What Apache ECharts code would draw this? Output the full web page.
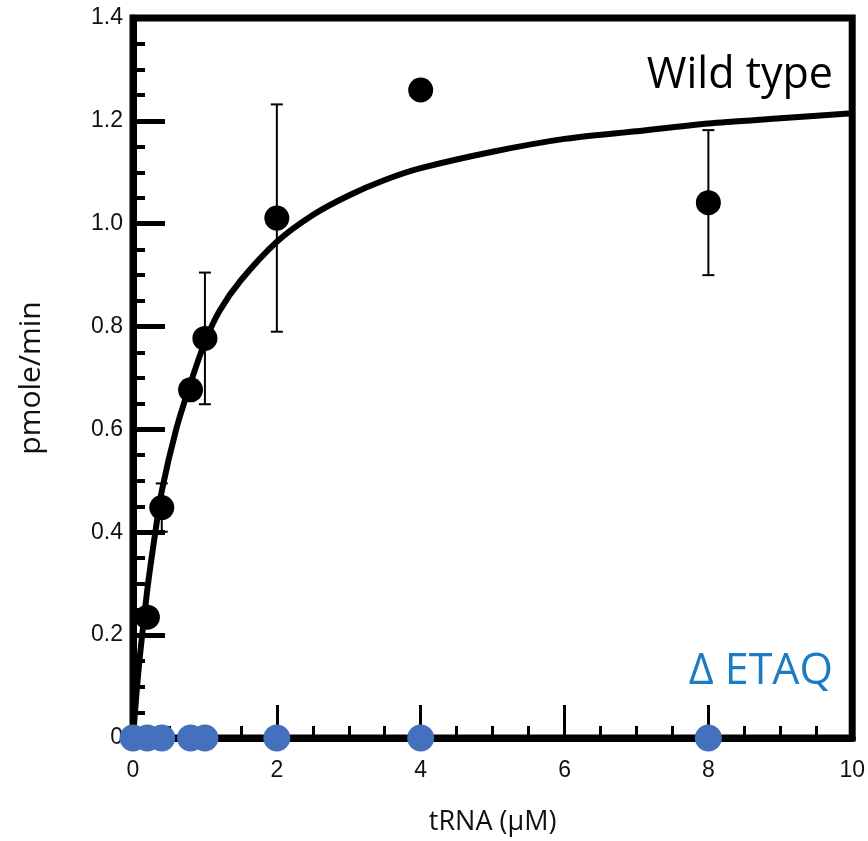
<!DOCTYPE html>
<html>
<head>
<meta charset="utf-8">
<script src="https://cdn.jsdelivr.net/npm/echarts@6/dist/echarts.min.js"></script>
<style>
  html, body { margin: 0; padding: 0; background: #fff; }
  #chart { width: 868px; height: 841px; }
</style>
</head>
<body>
<div id="chart"></div>
<script>
// Wild-type measurements (tRNA in µM, rate in pmole/min) with error bar half-widths
const wtX = [0.2, 0.4, 0.8, 1.0, 2, 4, 8];
const wtY = [0.235, 0.448, 0.677, 0.777, 1.011, 1.26, 1.041];
const wtErr = [0, 0.047, 0, 0.128, 0.221, 0, 0.141];

// ΔETAQ measurements: no activity detected
const etaqX = [0, 0.2, 0.4, 0.8, 1.0, 2, 4, 8];
const etaqY = [0, 0, 0, 0, 0, 0, 0, 0];

// Fitted saturation curve for wild type, read at sample concentrations
const curveX = [0, 0.05, 0.1, 0.2, 0.3, 0.4, 0.6, 0.8, 1.0, 1.2, 1.5, 2, 2.5, 3, 3.5, 4, 5, 6, 7, 8, 9, 10];
const curveY = [0, 0.09, 0.165, 0.29, 0.39, 0.48, 0.60, 0.69, 0.77, 0.83, 0.89, 0.965, 1.017, 1.055, 1.085, 1.108, 1.14, 1.165, 1.18, 1.195, 1.205, 1.215];

// Axis ticks
const xTicks = [0, 2, 4, 6, 8, 10];
const yTicks = [0, 0.2, 0.4, 0.6, 0.8, 1.0, 1.2, 1.4];

const labelFont = '"Liberation Sans", Arial, sans-serif';
const titleFont = '"Open Sans", "Noto Sans", sans-serif';

const chart = echarts.init(document.getElementById('chart'), null, { renderer: 'canvas' });

const zip = (xs, ys) => xs.map((x, i) => [x, ys[i]]);

chart.setOption({
  animation: false,
  backgroundColor: '#fff',
  grid: {
    left: 133, right: 13, top: 18, bottom: 101,
    show: true, borderColor: '#000', borderWidth: 7, backgroundColor: 'transparent'
  },
  xAxis: {
    type: 'value',
    min: xTicks[0], max: xTicks[xTicks.length - 1], interval: 2,
    name: 'tRNA (\u03bcM)', nameLocation: 'middle', nameGap: 71,
    nameTextStyle: { fontFamily: titleFont, fontSize: 27, color: '#111' },
    axisLine: { show: true, lineStyle: { color: '#000', width: 7 } },
    axisTick: { show: true, inside: true, length: 33, lineStyle: { color: '#000', width: 3 } },
    minorTick: { show: true, splitNumber: 4, length: 12, lineStyle: { color: '#000', width: 3 } },
    axisLabel: { margin: 21, fontFamily: labelFont, fontSize: 23, color: '#111' },
    splitLine: { show: false }
  },
  yAxis: {
    type: 'value',
    min: yTicks[0], max: yTicks[yTicks.length - 1], interval: 0.2,
    name: 'pmole/min', nameLocation: 'middle', nameGap: 87, nameRotate: 90,
    nameTextStyle: { fontFamily: titleFont, fontSize: 30, color: '#111' },
    axisLine: { show: true, lineStyle: { color: '#000', width: 7 } },
    axisTick: { show: true, inside: true, length: 32, lineStyle: { color: '#000', width: 5 } },
    minorTick: { show: true, splitNumber: 4, length: 12, lineStyle: { color: '#000', width: 4 } },
    axisLabel: {
      margin: 10, fontFamily: labelFont, fontSize: 23, color: '#111',
      formatter: v => (v === 0 ? '0' : v.toFixed(1))
    },
    splitLine: { show: false }
  },
  graphic: [
    {
      type: 'text', right: 35, top: 54, z: 100,
      style: { text: 'Wild type', fontFamily: titleFont, fontSize: 43, fill: '#000' }
    },
    {
      type: 'text', right: 35, top: 650, z: 100,
      style: { text: '\u0394 ETAQ', fontFamily: titleFont, fontSize: 43, fill: '#1b7cc4' }
    }
  ],
  series: [
    {
      name: 'fit',
      type: 'line',
      data: zip(curveX, curveY),
      smooth: 0.25,
      symbol: 'none',
      lineStyle: { color: '#000', width: 6 },
      z: 3
    },
    {
      name: 'error',
      type: 'custom',
      data: wtX.map((x, i) => [x, wtY[i], wtErr[i]]),
      renderItem: (params, api) => {
        const x = api.value(0), y = api.value(1), e = api.value(2);
        if (!e) return null;
        const top = api.coord([x, y + e]);
        const bot = api.coord([x, y - e]);
        const cap = 6;
        const style = { stroke: '#000', lineWidth: 2 };
        return {
          type: 'group',
          children: [
            { type: 'line', shape: { x1: top[0], y1: top[1], x2: bot[0], y2: bot[1] }, style },
            { type: 'line', shape: { x1: top[0] - cap, y1: top[1], x2: top[0] + cap, y2: top[1] }, style },
            { type: 'line', shape: { x1: bot[0] - cap, y1: bot[1], x2: bot[0] + cap, y2: bot[1] }, style }
          ]
        };
      },
      z: 4
    },
    {
      name: 'Wild type',
      type: 'scatter',
      data: zip(wtX, wtY),
      symbol: 'circle',
      symbolSize: 25,
      itemStyle: { color: '#000', opacity: 1 },
      clip: false,
      z: 5
    },
    {
      name: 'ETAQ',
      type: 'scatter',
      data: zip(etaqX, etaqY),
      symbol: 'circle',
      symbolSize: 27,
      itemStyle: { color: '#4570bd', opacity: 1 },
      clip: false,
      z: 6
    }
  ]
});
</script>
</body>
</html>
